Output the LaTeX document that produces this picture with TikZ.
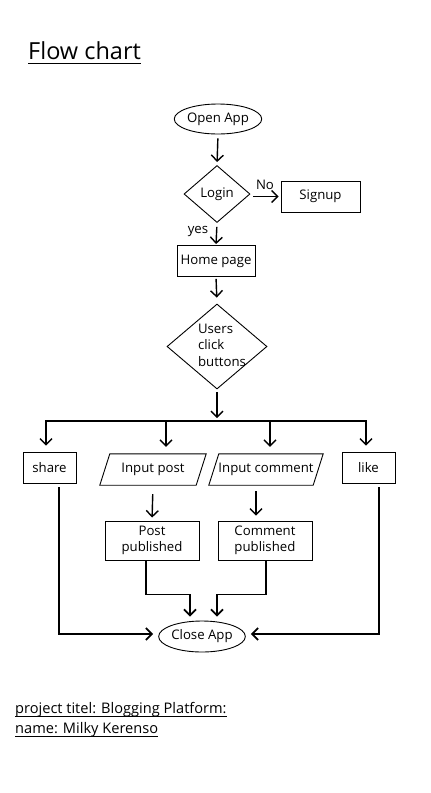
\documentclass[tikz,border=0pt]{standalone}
\usepackage{fontspec}
\setmainfont{Open Sans}
\usetikzlibrary{shapes.geometric,arrows.meta,calc}
\begin{document}
\begin{tikzpicture}[x=1pt,y=-1pt,
  txt/.style={font=\fontsize{13.2}{16}\selectfont},
  shp/.style={draw,line width=0.9pt,inner sep=0pt,txt},
  rbox/.style={shp,rectangle},
  oval/.style={shp,ellipse,minimum width=87pt,minimum height=30pt},
  dia/.style={shp,diamond},
  para/.style={inner sep=0pt,txt,minimum height=31pt},
  arr/.style={line width=1.4pt,-{Straight Barb[length=6pt,width=12pt]}},
  conn/.style={line width=1.8pt,-{Straight Barb[length=6pt,width=12pt]}}]
\useasboundingbox (0,0) rectangle (431,793);
\fill[white] (0,0) rectangle (431,793);

% title
\node[anchor=base west,font=\fontsize{23.5}{28}\selectfont,inner sep=0pt] (title) at (28,59) {Flow chart};
\draw[line width=0.8pt] ([yshift=-4.5pt]title.base west) -- ([yshift=-4.5pt]title.base east);

% nodes
\node[oval] (open) at (218,119) {Open App};
\node[dia,minimum width=66pt,minimum height=57pt] (login) at (217,194) {Login};
\node[rbox,minimum width=79pt,minimum height=31pt] (signup) at (320.5,196.5) {Signup};
\node[rbox,minimum width=78pt,minimum height=31pt] (home) at (216,261) {Home page};
\node[dia,minimum width=100pt,minimum height=85pt] (users) at (217,346.5) {};
\node[txt,align=left,inner sep=0pt,font=\fontsize{13.2}{16.5}\selectfont] (userstxt) at (222,345) {Users\\click\\buttons};

\node[rbox,minimum width=53pt,minimum height=31pt] (share) at (49.5,467.5) {share};
\node[para,minimum width=96pt] (ipost) at (153,469.5) {Input post};
\node[para,minimum width=104pt] (icomm) at (266,469.5) {Input comment};
\node[rbox,minimum width=53pt,minimum height=31pt] (like) at (368.5,467.5) {like};
\draw[line width=0.9pt] ($(ipost.south west)+(-5,0)$) -- ($(ipost.north west)+(5,0)$) -- ($(ipost.north east)+(5,0)$) -- ($(ipost.south east)+(-5,0)$) -- cycle;
\draw[line width=0.9pt] ($(icomm.south west)+(-5,0)$) -- ($(icomm.north west)+(5,0)$) -- ($(icomm.north east)+(5,0)$) -- ($(icomm.south east)+(-5,0)$) -- cycle;

\node[rbox,minimum width=94pt,minimum height=39pt,align=center] (ppub) at (152,540.5) {Post\\published};
\node[rbox,minimum width=94pt,minimum height=39pt,align=left] (cpub) at (265,540.5) {Comment\\published};
\node[oval,minimum width=86pt,minimum height=31pt] (close) at (202,636.5) {Close App};

% labels
\node[txt,inner sep=0pt] (no) at (265,184.5) {No};
\node[txt,inner sep=0pt] (yes) at (198,231) {yes};

% bar coordinates
\coordinate (b1) at (46,421);
\coordinate (b2) at (166,421);
\coordinate (b3) at (270,421);
\coordinate (b4) at (366,421);

% connectors
\draw[arr,shorten <=4pt,shorten >=3pt] (open.south) -- (login.north);
\draw[arr,shorten <=3pt,shorten >=2pt] (login.east |- signup.west) -- (signup.west);
\draw[arr,shorten <=4pt,shorten >=1pt] (login.south) -- (home.north);
\draw[arr,shorten <=2pt,shorten >=6pt] (home.south) -- (users.north);
\draw[arr,shorten <=3pt,shorten >=3pt] (users.south) -- (users.south |- b1);
\draw[line width=2pt] ([xshift=-1pt]b1) -- ([xshift=1pt]b4);
\draw[arr,shorten >=6pt] (b1) -- (b1 |- share.north);
\draw[arr,shorten >=7pt] (b2) -- (b2 |- ipost.north);
\draw[arr,shorten >=7pt] (b3) -- (b3 |- icomm.north);
\draw[arr,shorten >=6pt] (b4) -- (b4 |- like.north);

\draw[arr,shorten <=9pt,shorten >=3pt] (ipost.south) -- (ppub.north);
\draw[arr,shorten <=6pt,shorten >=5pt] ([xshift=-10pt]icomm.south) -- ([xshift=-9pt]cpub.north);

\draw[conn,shorten >=5pt] ([xshift=9.5pt,yshift=-4pt]share.south) |- ([yshift=2.5pt]close.west);
\draw[conn,shorten >=5pt] ([xshift=10.5pt,yshift=-4pt]like.south) |- ([yshift=2.5pt]close.east);
\draw[conn,shorten >=4pt] ([xshift=-6pt]ppub.south) -- ++(0,34) -| ([xshift=-12pt]close.north);
\draw[conn,shorten >=4pt] ([xshift=1pt]cpub.south) -- ++(0,34) -| ([xshift=15pt]close.north);

% footer
\node[anchor=base west,inner sep=0pt,font=\fontsize{14.6}{18}\selectfont] (proj) at (15,713) {project titel: Blogging Platform:};
\node[anchor=base west,inner sep=0pt,font=\fontsize{14.6}{18}\selectfont] (name) at (15,733) {name: Milky Kerenso};
\draw[line width=0.7pt] ([yshift=-3pt]proj.base west) -- ([yshift=-3pt]proj.base east);
\draw[line width=0.7pt] ([yshift=-3pt]name.base west) -- ([yshift=-3pt]name.base east);
\end{tikzpicture}
\end{document}
